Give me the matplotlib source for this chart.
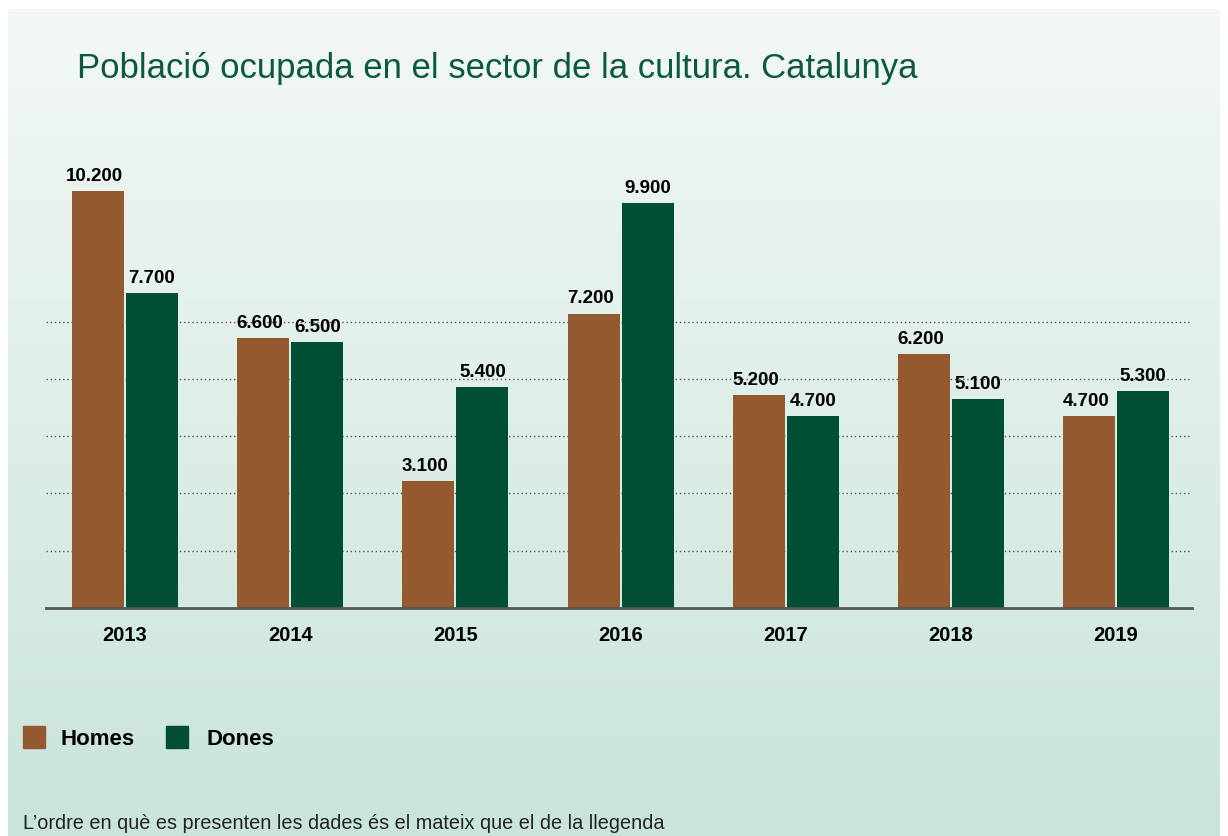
import matplotlib.pyplot as plt
import numpy as np

# dades: població ocupada (persones)
anys = ['2013', '2014', '2015', '2016', '2017', '2018', '2019']
homes = [10200, 6600, 3100, 7200, 5200, 6200, 4700]
dones = [7700, 6500, 5400, 9900, 4700, 5100, 5300]
linies_guia = [1400, 2800, 4200, 5600, 7000]

c_homes = '#925a2e'
c_dones = '#004f35'
c_titol = '#0b5a3a'
fam = ['Liberation Sans', 'DejaVu Sans']

W, H = 1228, 836
fig = plt.figure(figsize=(W / 100, H / 100), dpi=100)
fig.patch.set_facecolor('white')

def fx(px):
    return px / W

def fy(py):
    return 1 - py / H

# fons amb degradat
bg = fig.add_axes([fx(8), 0, fx(1220 - 8), fy(9)], zorder=-5)
top = np.array([243, 248, 246]) / 255
bot = np.array([201, 228, 219]) / 255
t = np.linspace(0, 1, 256)[:, None]
grad = top * (1 - t) + bot * t
bg.imshow(grad[:, None, :], aspect='auto', extent=[0, 1, 0, 1])
bg.set_axis_off()

ax = fig.add_axes([fx(46), fy(608), fx(1192 - 46), fy(180) - fy(608)])
ax.patch.set_alpha(0)

x = np.arange(len(anys))
w = 0.315
ax.bar(x - w / 2 - 0.006, homes, w, color=c_homes, zorder=3)
ax.bar(x + w / 2 + 0.006, dones, w, color=c_dones, zorder=3)

fmt = lambda v: f'{v:,}'.replace(',', '.')
for xi, v in zip(x - w / 2 - 0.006, homes):
    ax.text(xi - 0.02, v + 150, fmt(v), ha='center', va='bottom',
            fontsize=13.5, fontweight='bold', family=fam)
for xi, v in zip(x + w / 2 + 0.006, dones):
    ax.text(xi, v + 150, fmt(v), ha='center', va='bottom',
            fontsize=13.5, fontweight='bold', family=fam)

for g in linies_guia:
    ax.axhline(g, color='#555555', lw=1, ls=(0, (1, 2)), zorder=1)

ax.set_xlim(-0.479, len(anys) - 1 + 0.46)
ax.set_ylim(0, 428 / 40.9 * 1000)
ax.set_yticks([])
ax.set_xticks(x)
ax.set_xticklabels(anys, fontsize=14.5, fontweight='bold', family=fam)
ax.tick_params(axis='x', length=0, pad=13)
for s in ['top', 'right', 'left']:
    ax.spines[s].set_visible(False)
ax.spines['bottom'].set_color('#555555')
ax.spines['bottom'].set_linewidth(2)
ax.spines['bottom'].set_zorder(4)

fig.text(fx(77), fy(78), 'Població ocupada en el sector de la cultura. Catalunya',
         fontsize=25, color=c_titol, va='baseline', ha='left', family=fam)

# llegenda
for px, col, lab, tx in [(23, c_homes, 'Homes', 61), (166, c_dones, 'Dones', 206)]:
    fig.patches.append(plt.Rectangle((fx(px), fy(748)), fx(22), fy(726) - fy(748),
                                     transform=fig.transFigure, color=col))
    fig.text(fx(tx), fy(745), lab, fontsize=16, fontweight='bold', va='baseline',
             family=fam)

fig.text(fx(23), fy(829), 'L’ordre en què es presenten les dades és el mateix que el de la llegenda',
         fontsize=14.3, color='#222222', va='baseline', family=fam)

plt.savefig('out.png', dpi=100)
